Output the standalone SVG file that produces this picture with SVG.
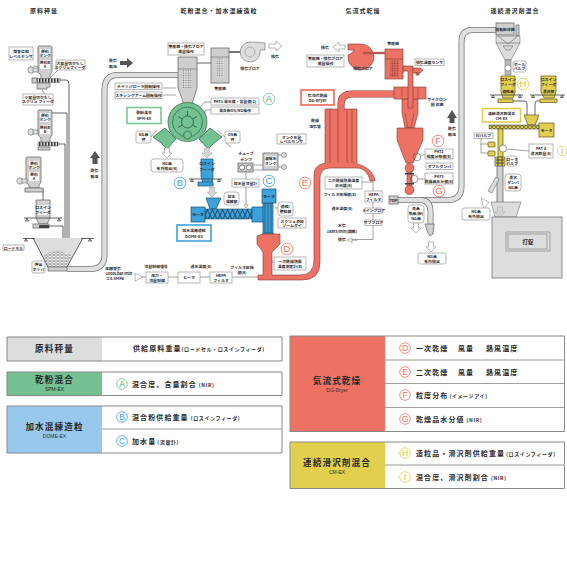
<svg xmlns="http://www.w3.org/2000/svg" width="567" height="567" viewBox="0 0 567 567">
<style>
text{font-family:"Noto Sans CJK JP","Liberation Sans",sans-serif;font-weight:700;fill:#2a2a2a;text-anchor:middle;font-size:3.900px}
.h{font-size:6px;letter-spacing:1px}
.b{fill:#fff;stroke:#999;stroke-width:.7}
.g{fill:#cfcfcf;stroke:#6d6d6d;stroke-width:.8}
.gl{fill:#dcdddd;stroke:#6d6d6d;stroke-width:.6}
.po{fill:none;stroke:#777;stroke-width:6}
.pi{fill:none;stroke:#dfdfdf;stroke-width:4.4}
.l{fill:none;stroke:#666;stroke-width:.6}
.d{fill:none;stroke:#3d3d3d;stroke-width:.8}
.red{fill:#ee7264;stroke:#7b3a33;stroke-width:.6}
.grn{fill:#74c192;stroke:#2f5d43;stroke-width:.7}
.blu{fill:#3ba2dc;stroke:#1d4f70;stroke-width:.7}
.yel{fill:#e2cf4e;stroke:#5d5520;stroke-width:.7}
.ar{fill:#fff;stroke:#999;stroke-width:.7}
.ag{fill:#d5d5d5;stroke:#aaa;stroke-width:.6}
.up{fill:#555}
.bd{fill:#fff;stroke-width:.8}
.bl{font-family:"Liberation Sans",sans-serif;font-weight:400;font-size:9.500px}
.bs{font-family:"Liberation Sans",sans-serif;font-weight:400;font-size:8.500px}
.lt{font-size:8.600px;letter-spacing:1.100px}
.sub{font-family:"Liberation Sans",sans-serif;font-size:5px;font-weight:400}
.rt{text-anchor:start;font-size:7px;letter-spacing:1.100px}
.pa{font-size:5px;letter-spacing:.6px}
.sep{stroke:#888;stroke-width:.8}
.sepl{stroke:#bbb;stroke-width:1.4}
.edge{stroke:#888;stroke-width:1;fill:none}
</style>
<defs>
<pattern id="hatch" width="2.4" height="2.4" patternUnits="userSpaceOnUse"><rect width="2.4" height="2.4" fill="#eee"/><circle cx="1.2" cy="1.2" r=".8" fill="#777"/></pattern>
<pattern id="hatchr" width="2.4" height="2.4" patternUnits="userSpaceOnUse"><rect width="2.4" height="2.4" fill="#ee7264"/><circle cx="1.2" cy="1.2" r=".8" fill="#8a3a30"/></pattern>
<pattern id="par" width="4" height="3" patternUnits="userSpaceOnUse"><rect width="4" height="3" fill="#dcdddd"/><ellipse cx="2" cy="1.5" rx="1.7" ry="1.1" fill="#fff" stroke="#666" stroke-width=".4"/></pattern>
<pattern id="scr" width="5" height="10" patternUnits="userSpaceOnUse"><rect width="5" height="10" fill="#3ba2dc"/><path d="M0,5 L2.5,0 L5,5 L2.5,10Z" fill="none" stroke="#123" stroke-width=".7"/></pattern>
<pattern id="scy" width="4" height="4" patternUnits="userSpaceOnUse"><rect width="4" height="4" fill="#e2cf4e"/><path d="M0,4 L2,0 L4,4" fill="none" stroke="#333" stroke-width=".7"/></pattern>
<pattern id="scw" width="3" height="4" patternUnits="userSpaceOnUse"><rect width="3" height="4" fill="#ddd"/><rect width="1.5" height="4" fill="#333"/></pattern>
<path id="aw" d="M-2.5,-5 H2.5 V0 H5 L0,5 L-5,0 H-2.5Z"/>
</defs>

<g id="connectors">
<path class="po" d="M67,269 H90 Q104.500,269 104.500,255 V90 Q104.500,75 118,75 H178"/>
<path class="pi" d="M67,269 H90 Q104.500,269 104.500,255 V90 Q104.500,75 118,75 H178"/>
<path class="po" d="M398,200 H448 Q461.500,200 461.500,186 V42 Q461.500,30 472,30 H496"/>
<path class="pi" d="M398,200 H448 Q461.500,200 461.500,186 V42 Q461.500,30 472,30 H496"/>
<path class="po" d="M420,200 Q430.500,200 430.500,212 V225"/>
<path class="pi" d="M420,200 Q430.500,200 430.500,212 V225"/>
<path class="d" d="M60,80 H66 Q69,80 69,84 V240 M48,113 H67 V240 M48,144 H65 V240 M43,189 V200 M47,226 H63 V240"/>
<path class="d" d="M513,101 H525 Q527,101 527,104 V116 M543,101 H537 Q535,101 535,104 V116"/>
<path class="d" stroke-width="1.400" d="M197,63 H211"/>
<path class="d" d="M229,52 H247" style="stroke-width:1.400"/>
<path class="l" d="M246,172 V205 M253,165 H263 M253,170 H263"/>
<path class="l" d="M135,277 H146 M168,277 H178 M200,277 H210 M232,277 H258"/>
<path class="l" d="M350,239.500 H373 V182 H362 M399,72 H405"/>
<path class="l" d="M493,136 H481 V153 H488 M481,144 H488 M507,149 L529,151"/>
<path class="l" d="M421,156 L425,154 M418,179 L425,179"/>
<path class="l" d="M44,67 L33,66 M38,72 L30,66 M50,78 L60,68 M42,90 L46,95 M211,102 H205 L190,118 M211,110 H205 V122"/>
<path class="l" d="M151,137 L157,130 M225,137 L217,130 M226,143 L231,147 M163,88 H176 M163,95 H176"/>
<path class="l" d="M277,139 L280,134 M288,208 L275,208 M274,262 L272,262"/>
</g>

<g id="raw-weighing">
<text class="h" x="44" y="12.500">原料秤量</text>
<g id="tank-a">
<path class="g" d="M39,46 H51 Q52,46 52,48 V72 L50,75 V80 H41 V75 L38,72 V48 Q38,46 39,46Z"/>
<rect x="40" y="49" width="10" height="8" fill="#fff"/><rect x="40" y="60" width="10" height="9" fill="#fff"/>
<text x="45" y="52.500">原料</text><text x="45" y="56.500">タンク</text><text x="45" y="64">原料B</text><text x="45" y="68.200">A</text>
<circle cx="31" cy="70" r="3.200" class="gl"/><rect x="33" y="68" width="5" height="4" class="gl"/>
<rect x="32" y="78" width="5" height="5" class="g"/><rect x="37" y="78.500" width="23" height="4" fill="url(#scw)" stroke="#444" stroke-width=".4"/>
<path class="g" d="M38,83 H50 V87 H47 V89 H37 V85Z"/>
<rect class="b" x="9" y="47" width="24" height="13"/><text x="21" y="52.500">周管位知</text><text x="21" y="57.500">レベルセンサ</text>
<rect class="b" x="56" y="60" width="29" height="10"/><text x="70" y="64.500">大容量切欠なし</text><text x="70" y="68.800">スクリュフィーダ</text>
<rect class="b" x="23" y="94" width="30" height="11"/><text x="38" y="98.700">小容量切欠なし</text><text x="38" y="103.200">スクリュ フィーダ</text>
</g>
<g id="tank-b">
<path class="g" d="M39,110 H51 Q52,110 52,112 V135 L50,138 V144 H41 V138 L38,135 V112 Q38,110 39,110Z"/>
<rect x="40" y="113" width="10" height="9" fill="#fff"/><rect x="40" y="125" width="10" height="9" fill="#fff"/>
<text x="45" y="116.500">原料</text><text x="45" y="120.800">タンク</text><text x="45" y="129">原料B</text><text x="45" y="133.200">B</text>
<circle cx="31" cy="132" r="3.200" class="gl"/><rect x="33" y="130" width="5" height="4" class="gl"/>
<rect x="38" y="142" width="20" height="4" fill="url(#scw)" stroke="#444" stroke-width=".4"/>
<path class="g" d="M38,147 H50 V150 H38Z"/>
</g>
<g id="tank-c">
<path class="g" d="M27,157 H40 Q41,157 41,159 V182 L39,185 V188 H29 V185 L26,182 V159 Q26,157 27,157Z"/>
<rect x="29" y="161" width="10" height="8" fill="#fff"/><rect x="29" y="172" width="10" height="9" fill="#fff"/>
<text x="34" y="164.500">原料</text><text x="34" y="168.600">タンク</text><text x="34" y="175.500">原料</text><text x="34" y="180">A</text>
<circle cx="20" cy="181" r="3.200" class="gl"/><rect x="22" y="179" width="5" height="4" class="gl"/>
<rect x="25" y="188" width="18" height="4" class="g"/>
</g>
<g id="feeder">
<path class="g" d="M36,200 H50 V218 L47,224 H39 L36,218Z"/>
<rect x="37" y="205" width="12" height="10" fill="#fff" opacity=".7"/><text x="43" y="208.500">ロスイン</text><text x="43" y="213.500">フィーダ</text>
<path class="d" d="M24,218 H62 M27,218 l-1.500,3 h3z M59,218 l-1.500,3 h3z"/>
<rect class="g" x="33" y="224" width="16" height="4"/><rect x="39" y="225" width="10" height="3" fill="#444"/>
</g>
<g id="hopper">
<path d="M33,238 H83 L67,267 H48Z" fill="#dcdddd"/>
<path d="M43,256 Q57,246 72,256 L66,268 H48Z" fill="url(#par)"/>
<path class="d" d="M33,238 L48,267 M83,238 L67,267 M23,238.500 H35 M81,238.500 H94 M26,238.500 l-1.500,2.500 h3z M90,238.500 l-1.500,2.500 h3z"/>
<rect class="g" x="48" y="267" width="19" height="4"/>
<rect class="b" x="3" y="245" width="21" height="5.500"/><text x="13.500" y="249.500">ロードセル</text>
<rect class="b" x="32" y="261" width="13" height="12" rx="2"/><text x="38.500" y="266">押出</text><text x="38.500" y="271">ホッパ</text>
</g>
<path class="up" d="M90,158 L95,151 L100,158 H97.500 V164 H92.500 V158Z"/>
<text x="94.500" y="172">乾気</text><text x="94.500" y="178">輸送</text>
<text x="113" y="270">圧縮空気</text><text x="119" y="275">1000Lbar/min</text><text x="115" y="280">±0.5MPa</text>
<path class="ar" d="M135,273 L143,277 L135,281Z"/>
<text x="113" y="61.500">乾気</text><text x="113" y="67.500">輸送</text>
</g>

<g id="spm-ex">
<text class="h" x="219" y="12.500">乾粉混合・加水混練造粒</text>
<rect class="b" x="168" y="43" width="36" height="12"/><text x="186" y="48.300">集塵機・排気ブロア</text><text x="186" y="53">風量操作</text>
<path class="up" d="M120,61 H127 V58 L133,63 L127,68 V65 H120Z"/>
<path class="g" d="M178,57 H197 V88 L191,107 H185 L178,88Z"/>
<rect x="183" y="69" width="9" height="19" fill="url(#hatch)"/><path class="l" d="M178,69 H197"/>
<rect class="g" x="211" y="48" width="18" height="35"/><rect x="215" y="57" width="9" height="20" fill="url(#hatch)"/><path class="l" d="M211,57 H229"/>
<text x="220" y="90">集塵機</text>
<path class="gl" d="M250,42 Q254,42 265,43 V50 H260 A10,10 0 1,1 250,42Z"/><circle cx="250" cy="52" r="5" fill="none" stroke="#666" stroke-width=".4"/>
<text x="250" y="70">排気ブロア</text><text x="275" y="58">排気</text>
<path class="ar" d="M269,44 H276 V41 L282,46 L276,51 V48 H269Z"/>
<rect class="b" x="115" y="83" width="47" height="6.500"/><text x="138.500" y="87.800">チャッパローラ回転操作</text>
<rect class="b" x="115" y="92" width="47" height="6.500"/><text x="138.500" y="96.800">スキシングアーム回転操作</text>
<rect x="127" y="107.500" width="34" height="16" fill="#fff" stroke="#74c192" stroke-width="1.500"/><text x="144" y="114">乾粉混合</text><text x="144" y="120">SPM-EX</text>
<path class="grn" d="M153,137 L165,128 L176,139 L167,149 L161,143Z M222,137 L210,128 L199,139 L208,149 L214,143Z"/>
<circle class="grn" cx="187.500" cy="122" r="19.500"/>
<circle cx="187.500" cy="122" r="15" fill="none" stroke="#2f5d43" stroke-width=".7"/>
<circle cx="187.500" cy="122" r="6" fill="none" stroke="#2f5d43" stroke-width=".8"/>
<path d="M187.500,111 V116 M178,116.500 L182.500,119 M178,127.500 L182.500,125 M197,116.500 L192.500,119 M197,127.500 L192.500,125" stroke="#2f5d43" stroke-width=".9"/>
<circle class="grn" cx="187.500" cy="135" r="4"/>
<rect class="b" x="211" y="98" width="48" height="7"/><text x="235" y="103">PAT1 混合度・含量値(2)</text>
<rect class="b" x="211" y="107" width="48" height="7"/><text x="235" y="112">混合粉OS/NG操作</text>
<rect class="b" x="136" y="131" width="15" height="12" rx="2"/><text x="143.500" y="136">NG品</text><text x="143.500" y="141">弁</text>
<rect class="b" x="225" y="131" width="15" height="12" rx="2"/><text x="232.500" y="136">OS品</text><text x="232.500" y="141">弁</text>
<use href="#aw" x="167" y="153" class="ar"/>
<use href="#aw" x="207" y="153" class="ag"/>
<rect class="b" x="151" y="159" width="32" height="13" rx="3"/><text x="167" y="164.500">NG品</text><text x="167" y="169.800">系外排出(8)</text>
</g>

<g id="dome-ex">
<path class="blu" d="M201,159 H213 V177 L212,183 H203 L201,177Z"/>
<text x="207" y="164.500">ロスイン</text><text x="207" y="170.500">フィーダ</text>
<path class="d" d="M189,179 H222 M192,179 l-1.500,2.500 h3z M219,179 l-1.500,2.500 h3z"/>
<rect class="blu" x="198" y="182" width="15" height="4"/>
<use href="#aw" x="212" y="192" class="ag"/>
<path class="blu" d="M206,198 H221 L216,209 H210Z"/>
<rect x="205" y="209" width="47" height="10" fill="url(#scr)" stroke="#1d4f70" stroke-width=".6"/>
<rect class="blu" x="191" y="207" width="14" height="15"/><text x="198" y="216">モータ</text>
<rect class="blu" x="252" y="207" width="12" height="15"/>
<rect class="blu" x="263" y="203" width="10" height="32"/><path class="d" d="M268,203 V233 M265,203 V233 M271,203 V233" style="stroke:#1d4f70"/>
<rect class="blu" x="262" y="189" width="14" height="14"/><text x="269" y="198">モータ</text>
<path class="blu" d="M263,233 H273 L272,240 Q268,244 264,240Z"/><path d="M263.500,236 Q268,240 272.500,236" class="d" style="stroke:#1d4f70"/>
<rect x="177" y="225" width="34" height="16" fill="#fff" stroke="#3ba2dc" stroke-width="1.600"/><text x="194" y="232">加水混練造粒</text><text x="194" y="238">DOME-EX</text>
<rect class="b" x="224" y="192" width="15" height="13" rx="3"/><text x="231.500" y="197.500">加水</text><text x="231.500" y="202.500">混練部</text>
<text x="246" y="155">チューブ</text><text x="246" y="160.500">ポンプ</text>
<rect class="g" x="238" y="163" width="15" height="9"/><circle cx="242" cy="167.500" r="2.600" fill="#fff" stroke="#333" stroke-width=".6"/><circle cx="249" cy="167.500" r="2.600" fill="#fff" stroke="#333" stroke-width=".6"/>
<rect class="b" x="232" y="179" width="27" height="8"/><text x="245.500" y="184.500">加水量流量計</text>
<path class="ar" d="M244,205 H248 L246,208Z"/>
<rect class="g" x="263" y="153" width="15" height="17"/><rect x="265" y="156" width="11" height="10" fill="#fff"/><text x="270.500" y="160">溶解水</text><text x="270.500" y="165">タンク</text>
<circle cx="284" cy="155" r="2.500" class="gl"/><circle cx="284" cy="167" r="2.500" class="gl"/><path class="l" d="M278,155 H282 M278,167 H282"/>
<rect class="b" x="277" y="134" width="29" height="10"/><text x="291.500" y="138.500">タンク水量</text><text x="291.500" y="143">レベルセンサ</text>
<rect class="b" x="278" y="202" width="15" height="14" rx="3"/><text x="285.500" y="208">造粒/</text><text x="285.500" y="213">整粒部</text>
<rect class="b" x="278" y="218" width="28" height="10"/><text x="292" y="222.500">スクリュ添加</text><text x="292" y="227">ゾームダイ</text>
</g>

<g id="dg-dryer">
<text class="h" x="363" y="12.500">気流式乾燥</text>
<path class="red" d="M263,234 H280 V244 L272,252 V275 H300 Q314,275 314,260 V175 Q314,165 325,163 V109 H357 V164 C366,166 374,172 375,181 H370 C369,174 364,168 357,168 H330 Q320,168 320,178 V262 Q320,280 302,280 H258 V275 H263 V252 L257,244 V236Z"/>
<path d="M330,109 V163 M338,109 V163 M347,109 V163 M352,109 V163" stroke="#7b3a33" stroke-width=".6"/>
<path d="M341,110 V104 Q341,94 352,94 H396" fill="none" stroke="#7b3a33" stroke-width="7"/>
<path d="M341,110 V104 Q341,94 352,94 H396" fill="none" stroke="#ee7264" stroke-width="5.800"/>
<path class="red" d="M402,99 H418 V113 L414,128 H405 L402,113Z"/>
<rect class="red" x="394" y="87" width="32" height="12"/><path d="M402,87 V99 M418,87 V99" stroke="#7b3a33" stroke-width=".5"/>
<path class="red" d="M397,128 H423 V140 L413,163 H406 L397,140Z"/>
<path d="M405,113 L408,128 M414,113 L411,128" stroke="#7b3a33" stroke-width=".5"/>
<rect class="red" x="407" y="170" width="5" height="18"/>
<circle class="red" cx="409.500" cy="168" r="4.500"/><circle class="red" cx="409.500" cy="190" r="4.500"/>
<rect x="405" y="173" width="9" height="1.500" fill="#444"/><rect x="405" y="183" width="9" height="1.500" fill="#444"/>
<path class="red" d="M403,66 H413 V108 H408 V71 H403Z"/>
<rect class="red" x="385" y="49" width="18" height="30"/><path class="l" d="M385,59 H403" style="stroke:#7b3a33"/>
<rect x="390" y="60" width="9" height="17" fill="url(#hatchr)"/>
<path class="red" d="M348,44 H360 A13,13 0 1,1 348,55 A10,10 0 0,0 354,50 H348Z"/>
<path d="M363,53 H385" stroke="#7b3a33" stroke-width="2.200"/><path d="M363,53 H385" stroke="#ee7264" stroke-width="1"/>
<path class="red" d="M413,68 H420 L423,70 L420,73 H413Z"/><rect class="red" x="416" y="73" width="3" height="2"/>
<text x="393" y="45">集塵機</text><text x="363" y="69.500">排気ブロア</text><text x="325" y="49">排気</text>
<path class="ar" d="M345,45 H339 V42 L333,47 L339,52 V49 H345Z"/>
<rect class="b" x="307" y="55" width="37" height="12"/><text x="325.500" y="60">集塵機・排気ブロア</text><text x="325.500" y="65">風量操作</text>
<rect class="b" x="415" y="59" width="29" height="6.500"/><text x="429.500" y="63.800">排気温度センサ</text>
<rect x="301" y="90" width="33" height="15" fill="#fff" stroke="#ee7264" stroke-width="1.700"/><text x="317.500" y="96.500">気流式乾燥</text><text x="317.500" y="102">DG-Dryer</text>
<text x="315" y="122">乾燥</text><text x="315" y="128">送気管</text>
<text x="437" y="100.500">サイクロン</text><text x="437" y="106">回 収機</text>
<path class="up" d="M447,118 L452,110 L457,118 H454.500 V123 H449.500 V118Z"/>
<text x="452" y="130">乾気</text><text x="452" y="136">輸送</text>
<rect class="b" x="325" y="177" width="37" height="12"/><text x="343.500" y="182">二次乾燥熱風温度</text><text x="343.500" y="187.300">表示器(8)</text>
<text x="340" y="196">フィルタ圧損値(8)</text><text x="342" y="210">通水温度(8)</text><text x="342" y="227">水気</text><text x="342" y="232.500">16m3/min(調節)</text><text x="342" y="241">排気</text>
<path class="ar" d="M357,240 H352 V238 L347,240 L352,242.500 V240Z"/>
<rect class="b" x="365" y="191" width="17" height="11"/><text x="373.500" y="196">HEPA</text><text x="373.500" y="200.800">フィルタ</text>
<rect class="b" x="365" y="208" width="17" height="5.500"/><text x="373.500" y="212.300">メインブロア</text>
<rect class="b" x="365" y="220" width="17" height="5.500"/><text x="373.500" y="224.300">サブブロア</text>
<rect class="b" x="274" y="257" width="32" height="13"/><text x="290" y="262.500">一次乾燥熱風</text><text x="290" y="268">温度測定計(8)</text>
<rect class="b" x="425" y="149" width="28" height="10"/><text x="439" y="153">PAT2</text><text x="439" y="158">粒度分布値(8)</text>
<rect class="b" x="426" y="163" width="27" height="6.500"/><text x="439.500" y="167.800">ダブルダンパ</text>
<rect class="b" x="425" y="173" width="28" height="11"/><text x="439" y="177.500">PAT3</text><text x="439" y="182.500">乾燥品水分値(8)</text>
<circle cx="417" cy="157" r="3.800" fill="none" stroke="#555" stroke-width=".6"/><circle cx="414" cy="179" r="3.800" fill="none" stroke="#555" stroke-width=".6"/>
<rect class="g" x="389" y="196" width="9" height="8"/><text x="393.500" y="201.500">TDP</text>
<path class="g" d="M425,224 H434 L433,234 L430,236 L428,233Z"/>
<rect class="b" x="408" y="205" width="16" height="18" rx="3"/><text x="416" y="210">良品</text><text x="416" y="215">製品(粉)</text><text x="416" y="220">NG品</text>
<use href="#aw" x="416" y="228" class="ar"/><use href="#aw" x="431" y="247" class="ar"/>
<rect class="b" x="418" y="253" width="28" height="11" rx="2"/><text x="432" y="257.500">NG品</text><text x="432" y="262.500">系外排出</text>
</g>

<g id="heater-line">
<rect class="b" x="146" y="272" width="22" height="11"/><text x="157" y="277">圧力・</text><text x="157" y="281.700">流量制御</text>
<rect class="b" x="178" y="272" width="22" height="11"/><text x="189" y="279.200">ヒータ</text>
<rect class="b" x="210" y="272" width="22" height="11"/><text x="221" y="277">HEPA</text><text x="221" y="281.700">フィルタ</text>
<text x="156" y="268">流量制御信号</text><text x="201" y="268">通水温度(8)</text><text x="242" y="269">フィルタ圧損</text><text x="242" y="274">値(8)</text>
</g>

<g id="cm-ex">
<text class="h" x="515" y="12.500">連続滑沢剤混合</text>
<rect class="g" x="496" y="23" width="18" height="12"/><text x="505" y="30.500">回転粉体機</text>
<rect class="g" x="516" y="25" width="3" height="11"/>
<path class="gl" d="M496,36 H520 V43 L511,60 H505 L496,43Z"/><path class="l" d="M496,43 H520 M503,46 H513 L510,50 H506Z M498,36 L508,44 L518,36"/>
<rect x="505" y="60" width="6" height="15" fill="#bbb" stroke="#666" stroke-width=".5"/><circle cx="508" cy="68" r="3" fill="#fff" stroke="#666" stroke-width=".5"/>
<rect class="b" x="513" y="61" width="13" height="11" rx="2"/><text x="519.500" y="65.500">ボール</text><text x="519.500" y="70">バルブ</text>
<path class="yel" d="M501,76 H515 V92 L513,98 H503 L501,92Z M541,76 H556 V92 L554,98 H544 L541,92Z"/>
<text x="508" y="80.500">ロスイン</text><text x="508" y="85.500">フィーダ</text><text x="508" y="93">造粒品</text>
<text x="548.500" y="80.500">ロスイン</text><text x="548.500" y="85.500">フィーダ</text><text x="548.500" y="93">滑沢剤</text>
<path class="d" d="M490,95 H523 M530,95 H565 M493,95 l-1.500,2.500 h3z M520,95 l-1.500,2.500 h3z M533,95 l-1.500,2.500 h3z M562,95 l-1.500,2.500 h3z"/>
<rect class="yel" x="498" y="99" width="15" height="3.500"/><rect class="yel" x="540" y="99" width="17" height="3.500"/>
<rect x="482.500" y="108.500" width="38" height="13.500" fill="#fff" stroke="#e2cf4e" stroke-width="1.600"/><text x="501.500" y="114.500">連続滑沢剤混合</text><text x="501.500" y="120">CM-EX</text>
<path class="yel" d="M524,115 H539 L535,125 H528Z"/>
<rect x="489" y="125" width="50" height="4" fill="url(#scy)" stroke="#444" stroke-width=".5"/>
<rect class="yel" x="539" y="123" width="15" height="14"/><text x="546.500" y="131.500">モータ</text>
<rect class="yel" x="498" y="129" width="5" height="28"/>
<rect class="g" x="497" y="165" width="6" height="38"/>
<rect x="495" y="157" width="10" height="9" fill="#e2cf4e" stroke="#444" stroke-width=".6"/><path d="M496,160 H504 M496,163 H504 M498,157 V166 M502,157 V166" stroke="#333" stroke-width=".9"/>
<rect class="b" x="474" y="133" width="19" height="5.500"/><text x="483.500" y="137.300">IVバルブ</text>
<rect class="yel" x="488" y="142" width="7" height="5" rx="1"/><rect class="yel" x="488" y="151" width="7" height="5" rx="1"/>
<circle cx="503" cy="148.500" r="3.600" fill="#fff" stroke="#555" stroke-width=".6"/>
<rect class="b" x="529" y="144" width="24" height="14"/><text x="541" y="149.500">PAT 4</text><text x="541" y="155">滑沢剤量(8)</text>
<rect class="b" x="507" y="156" width="10" height="10" rx="2"/><text x="512" y="160.500">ロータ</text><text x="512" y="165">バルブ</text>
<rect class="b" x="505" y="174" width="16" height="17" rx="3"/><text x="513" y="179">滑沢</text><text x="513" y="184">ダンパ</text><text x="513" y="189">NG品</text>
<path class="gl" d="M496,177 L499,179 L492,193 L488,191Z"/>
<path class="ar" d="M481,198 L489,202 L484,209 Z"/>
<rect class="b" x="462" y="208" width="28" height="12" rx="2"/><text x="476" y="213">NG品</text><text x="476" y="218">系外排出</text>
<path class="gl" d="M491,202 H521 L516,217 H495Z"/>
<use href="#aw" x="500" y="212" class="ag"/>
<rect x="492" y="217" width="70" height="61" fill="#dcdddd" stroke="#777" stroke-width=".8"/>
<rect x="506" y="232" width="44" height="19" fill="none" stroke="#888" stroke-width=".7"/><rect x="508" y="234" width="39" height="15" fill="none" stroke="#888" stroke-width=".7"/>
<text x="528" y="244" style="font-size:5.500px">打錠</text>
</g>

<g id="badges">
<g id="badge-a"><circle class="bd" cx="269" cy="99" r="5.800" stroke="#74c192"/><text class="bl" x="269" y="102.400" style="fill:#50a872">A</text></g>
<g id="badge-b"><circle class="bd" cx="180" cy="183" r="5.800" stroke="#3ba2dc"/><text class="bl" x="180" y="186.400" style="fill:#3ba2dc">B</text></g>
<g id="badge-c"><circle class="bd" cx="269" cy="181" r="5.800" stroke="#3ba2dc"/><text class="bl" x="269" y="184.400" style="fill:#3ba2dc">C</text></g>
<g id="badge-d"><circle class="bd" cx="287" cy="249" r="5.800" stroke="#ee7264"/><text class="bl" x="287" y="252.400" style="fill:#ee7264">D</text></g>
<g id="badge-e"><circle class="bd" cx="305" cy="183" r="5.800" stroke="#ee7264"/><text class="bl" x="305" y="186.400" style="fill:#ee7264">E</text></g>
<g id="badge-f"><circle class="bd" cx="438" cy="141" r="5.800" stroke="#ee7264"/><text class="bl" x="438" y="144.400" style="fill:#ee7264">F</text></g>
<g id="badge-g"><circle class="bd" cx="439" cy="191" r="5.800" stroke="#ee7264"/><text class="bl" x="439" y="194.400" style="fill:#ee7264">G</text></g>
<g id="badge-h"><circle class="bd" cx="523" cy="84" r="5.800" stroke="#e2cf4e"/><text class="bl" x="523" y="87.400" style="fill:#d8c440">H</text></g>
<g id="badge-i"><circle class="bd" cx="562" cy="151" r="4.800" stroke="#e2cf4e"/><text class="bl" x="562" y="154.400" style="fill:#d8c440">I</text></g>
</g>

<g id="legend-raw">
<rect x="7" y="337" width="95" height="24" fill="#dcdddd"/>
<path class="edge" d="M7,337 H282 V361 H7Z"/>
<text class="lt" x="54.500" y="351.500">原料秤量</text>
<text class="rt" x="133" y="350.500">供給原料重量<tspan class="pa">(ロードセル・ロスインフィーダ)</tspan></text>
</g>
<g id="legend-spm">
<rect x="7" y="372" width="95" height="24" fill="#74c192"/>
<path class="edge" d="M7,372 H282 V395.500 H7Z"/>
<text class="lt" x="54.500" y="383">乾粉混合</text><text class="sub" x="54.500" y="391">SPM-EX</text>
<circle class="bd" cx="122" cy="384" r="5.300" stroke="#74c192"/><text class="bs" x="122" y="387" style="fill:#50a872">A</text>
<text class="rt" x="132" y="387">混合度、含量割合<tspan class="pa" dx="2">(NIR)</tspan></text>
</g>
<g id="legend-dome">
<rect x="7" y="406" width="95" height="47" fill="#98c9ec"/>
<path class="edge" d="M7,406 H282 V453 H7Z"/><path class="sep" d="M102,429 H282"/>
<text class="lt" x="54.500" y="430">加水混練造粒</text><text class="sub" x="54.500" y="438">DOME-EX</text>
<circle class="bd" cx="122" cy="417" r="5.300" stroke="#3ba2dc"/><text class="bs" x="122" y="420" style="fill:#3ba2dc">B</text>
<text class="rt" x="132" y="420">混合粉供給重量<tspan class="pa" dx="2">(ロスインフィーダ)</tspan></text>
<circle class="bd" cx="122" cy="441" r="5.300" stroke="#3ba2dc"/><text class="bs" x="122" y="444" style="fill:#3ba2dc">C</text>
<text class="rt" x="132" y="444">加水量<tspan class="pa" dx="1">(流量計)</tspan></text>
</g>
<g id="legend-dryer">
<rect x="290" y="336" width="95" height="95.500" fill="#ee7264"/>
<path class="edge" d="M290,336 H564.500 V431.500 H290Z"/>
<path class="sepl" d="M385,360 H565"/><path class="sep" d="M385,383.500 H565 M385,407.500 H565"/>
<text class="lt" x="337" y="384">気流式乾燥</text><text class="sub" x="337" y="391.500">DG-Dryer</text>
<circle class="bd" cx="405" cy="348" r="5.300" stroke="#ee7264"/><text class="bs" x="405" y="351" style="fill:#ee7264">D</text>
<text class="rt" x="416" y="351">一次乾燥<tspan x="458">風量</tspan><tspan x="486">熱風温度</tspan></text>
<circle class="bd" cx="405" cy="372" r="5.300" stroke="#ee7264"/><text class="bs" x="405" y="375" style="fill:#ee7264">E</text>
<text class="rt" x="416" y="375">二次乾燥<tspan x="458">風量</tspan><tspan x="486">熱風温度</tspan></text>
<circle class="bd" cx="405" cy="395" r="5.300" stroke="#ee7264"/><text class="bs" x="405" y="398" style="fill:#ee7264">F</text>
<text class="rt" x="416" y="398">粒度分布<tspan class="pa" dx="1">(イメージアイ)</tspan></text>
<circle class="bd" cx="405" cy="419" r="5.300" stroke="#ee7264"/><text class="bs" x="405" y="422" style="fill:#ee7264">G</text>
<text class="rt" x="416" y="422">乾燥品水分値<tspan class="pa" dx="2">(NIR)</tspan></text>
</g>
<g id="legend-cm">
<rect x="290" y="442" width="95" height="46.500" fill="#e2cf4e"/>
<path class="edge" d="M290,442 H564.500 V488.500 H290Z"/>
<path class="sepl" d="M385,465 H565"/>
<text class="lt" x="337" y="466">連続滑沢剤混合</text><text class="sub" x="337" y="473.500">CM-EX</text>
<circle class="bd" cx="405" cy="453" r="5.300" stroke="#e2cf4e"/><text class="bs" x="405" y="456" style="fill:#d8c440">H</text>
<text class="rt" x="416" y="456">造粒品・滑沢剤供給重量<tspan class="pa" dx="1">(ロスインフィーダ)</tspan></text>
<circle class="bd" cx="405" cy="477" r="5.300" stroke="#e2cf4e"/><text class="bs" x="405" y="480" style="fill:#d8c440">I</text>
<text class="rt" x="416" y="480">混合度、滑沢剤割合<tspan class="pa" dx="2">(NIR)</tspan></text>
</g>
</svg>
